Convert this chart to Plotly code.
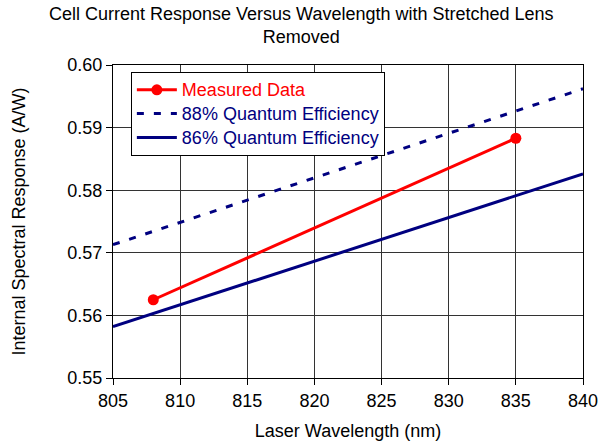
import plotly.graph_objects as go

measured_x = [808, 835]
measured_y = [0.5625, 0.5883]
qe_x = [805, 840]
qe88_y = [0.5713, 0.5962]
qe86_y = [0.5582, 0.5826]
x_ticks = [805, 810, 815, 820, 825, 830, 835, 840]
y_ticks = [0.55, 0.56, 0.57, 0.58, 0.59, 0.60]

RED = "#FF0000"
NAVY = "#000080"
FONT = "Liberation Sans, Arial, sans-serif"

fig = go.Figure()
fig.add_trace(go.Scatter(
    x=measured_x, y=measured_y, mode="lines+markers",
    name='<span style="color:#FF0000;font-size:18px">Measured Data</span>',
    line=dict(color=RED, width=3), marker=dict(color=RED, size=11)))
fig.add_trace(go.Scatter(
    x=qe_x, y=qe88_y, mode="lines",
    name='<span style="color:#000080;font-size:18px">88% Quantum Efficiency</span>',
    line=dict(color=NAVY, width=3, dash="7px,10px")))
fig.add_trace(go.Scatter(
    x=qe_x, y=qe86_y, mode="lines",
    name='<span style="color:#000080;font-size:18px">86% Quantum Efficiency</span>',
    line=dict(color=NAVY, width=3)))

fig.update_layout(
    width=600, height=447,
    margin=dict(l=113, r=17, t=65, b=69),
    paper_bgcolor="white", plot_bgcolor="white",
    font=dict(family=FONT, size=18, color="black"),
    showlegend=True,
    legend=dict(x=0.038, y=0.978, xanchor="left", yanchor="top",
                bgcolor="white", bordercolor="black", borderwidth=1,
                font=dict(size=16, family=FONT), itemwidth=40,
                tracegroupgap=0),
    annotations=[dict(
        text="Cell Current Response Versus Wavelength with Stretched Lens<br>Removed",
        xref="paper", yref="paper", x=0.402, y=1, xanchor="center", yanchor="bottom",
        yshift=16, showarrow=False, font=dict(size=18, family=FONT, color="black"))],
)
fig.update_xaxes(range=[805, 840], tickvals=x_ticks, showgrid=True,
                 gridcolor="#333333", gridwidth=1, showline=True, linecolor="black",
                 linewidth=1, mirror=True, ticks="outside", ticklen=6, tickcolor="black",
                 zeroline=False, automargin=False,
                 tickfont=dict(size=18),
                 title=dict(text="Laser Wavelength (nm)", font=dict(size=18), standoff=14))
fig.update_yaxes(range=[0.55, 0.60], tickvals=y_ticks, tickformat=".2f",
                 showgrid=True, gridcolor="#333333", gridwidth=1, showline=True,
                 linecolor="black", linewidth=1, mirror=True, ticks="outside", ticklen=6,
                 tickcolor="black", zeroline=False, automargin=False,
                 tickfont=dict(size=18),
                 title=dict(text="Internal Spectral Response (A/W)", font=dict(size=18), standoff=37))

fig.write_html("out.html", config={"displayModeBar": False},
               post_script="document.body.style.margin='0';document.body.style.overflow='hidden';")
